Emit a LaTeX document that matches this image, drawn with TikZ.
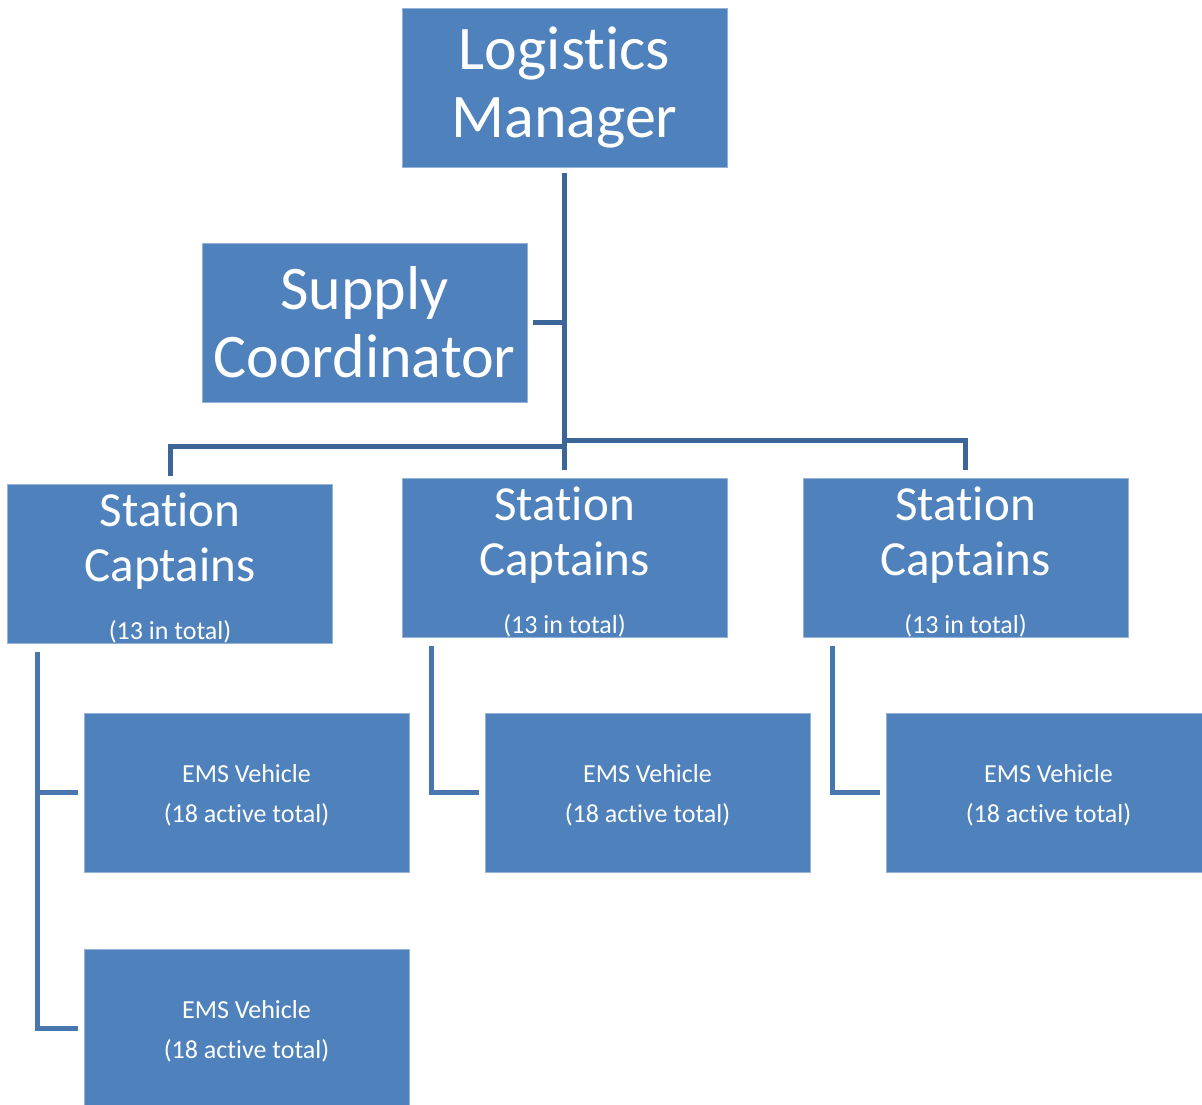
\documentclass[tikz,border=0pt]{standalone}
\usepackage{fontspec}
\setmainfont{Carlito}[Ligatures={NoCommon}]
\definecolor{boxblue}{HTML}{4F81BD}
\definecolor{linkblue}{HTML}{3D6698}
\definecolor{subblue}{HTML}{4A76AF}
\newcommand{\natsp}{\spaceskip=\fontdimen2\font\relax}
\begin{document}
\begin{tikzpicture}[x=1pt,y=-1pt,
	box/.style={fill=boxblue, draw=boxblue!60!white, line width=0.8pt, minimum width=325pt, minimum height=159pt, inner sep=0pt, text width=320pt, align=center, text=white, execute at begin node={\natsp}},
	big/.style={font=\fontsize{62}{68}\selectfont},
	small/.style={font=\fontsize{26}{40}\selectfont},
	link/.style={draw=linkblue, line width=5pt},
	sublink/.style={draw=subblue, line width=5pt}]
		\useasboundingbox (0,0) rectangle (1202,1105);
		\node[box, big] (lm) at (564.5,87.5) {Logistics\\Manager};
		\node[box, big] (sup) at (364.5,322.5) {Supply\\Coordinator};
		\node[box] (sc1) at (170,564) {{\fontsize{49}{55}\selectfont Station\\Captains\par}\vspace{28pt}{\fontsize{26}{30}\selectfont\natsp (13 in total)\par}\vspace{-8pt}};
		\node[box] (sc2) at (564.5,558) {{\fontsize{49}{55}\selectfont Station\\Captains\par}\vspace{28pt}{\fontsize{26}{30}\selectfont\natsp (13 in total)\par}\vspace{-8pt}};
		\node[box] (sc3) at (965.5,558) {{\fontsize{49}{55}\selectfont Station\\Captains\par}\vspace{28pt}{\fontsize{26}{30}\selectfont\natsp (13 in total)\par}\vspace{-8pt}};
		\node[box, small] (ems1) at (246.5,792.5) {EMS Vehicle\\(18 active total)\par\vspace{-6pt}};
		\node[box, small] (ems2) at (246.5,1028.5) {EMS Vehicle\\(18 active total)\par\vspace{-6pt}};
		\node[box, small] (ems3) at (647.5,792.5) {EMS Vehicle\\(18 active total)\par\vspace{-6pt}};
		\node[box, small] (ems4) at (1048.5,792.5) {EMS Vehicle\\(18 active total)\par\vspace{-6pt}};
		\coordinate (jl) at (565,446);
		\coordinate (jr) at (565,440);
		\draw [link] ([yshift=-6pt]lm.south) -- ([yshift=8pt]sc2.north);
		\draw [link] ([xshift=6pt]sup.east) -- (sup.east -| lm.south);
		\draw [link] (jl) -| ([yshift=8pt]sc1.north);
		\draw [link] (jr) -| ([yshift=8pt]sc3.north);
		\draw [sublink] ([xshift=30pt,yshift=-8pt]sc1.south west) |- ([xshift=-6pt]ems2.west);
		\draw [sublink] ([xshift=-6pt]ems1.west) -- ++(-42,0);
		\draw [sublink] ([xshift=30pt,yshift=-8pt]sc2.south west) |- ([xshift=-6pt]ems3.west);
		\draw [sublink] ([xshift=30pt,yshift=-8pt]sc3.south west) |- ([xshift=-6pt]ems4.west);
	\end{tikzpicture}
\end{document}
